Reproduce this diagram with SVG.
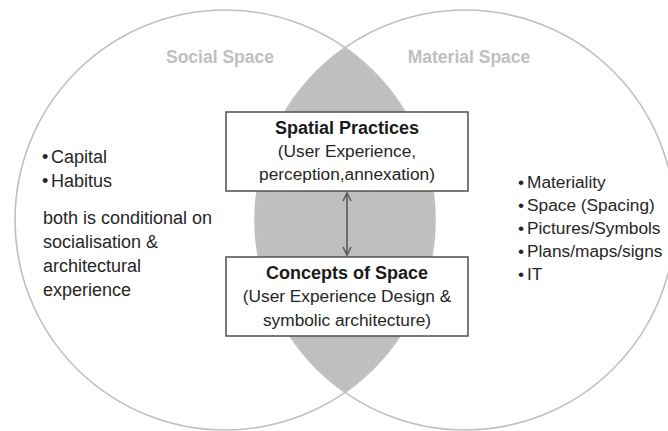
<svg xmlns="http://www.w3.org/2000/svg" width="668" height="431" viewBox="0 0 668 431">
<style>
.circle{fill:none;stroke:#bfbfbf;stroke-width:1.6}
.lens{fill:#bfbfbf;stroke:none}
.box{fill:#ffffff;stroke:#595959;stroke-width:1.6}
.title{font-family:"Liberation Sans",Arial,sans-serif;font-size:18px;font-weight:bold;fill:#1a1a1a;text-anchor:middle}
.sub{font-family:"Liberation Sans",Arial,sans-serif;font-size:17.3px;fill:#262626;text-anchor:middle}
.head{font-family:"Liberation Sans",Arial,sans-serif;font-size:17.5px;font-weight:bold;fill:#bfbfbf;text-anchor:middle}
.list{font-family:"Liberation Sans",Arial,sans-serif;font-size:18px;fill:#262626}
.rlist{font-family:"Liberation Sans",Arial,sans-serif;font-size:17.3px;fill:#262626}
.conn{stroke:#595959;stroke-width:1.6;fill:none}
</style>
<defs>
<marker id="arr" viewBox="0 0 10 10" refX="9" refY="5" markerWidth="10" markerHeight="10" markerUnits="userSpaceOnUse" orient="auto-start-reverse">
<path d="M1,1 L9,5 L1,9" fill="none" stroke="#595959" stroke-width="1.6"/>
</marker>
</defs>
<rect width="668" height="431" fill="#ffffff"/>
<g id="lens">
<path class="lens" d="M345,48 A210,210 0 0,1 345,392 A210,210 0 0,1 345,48 Z"/>
</g>
<g id="social-space">
<circle class="circle" cx="225" cy="220" r="210"/>
<text class="head" x="220" y="63">Social Space</text>
<text class="list"><tspan x="42" y="163">•</tspan><tspan x="51" y="163">Capital</tspan></text>
<text class="list"><tspan x="42" y="187">•</tspan><tspan x="51" y="187">Habitus</tspan></text>
<text class="list" x="43" y="224">both is conditional on</text>
<text class="list" x="43" y="248">socialisation  &amp;</text>
<text class="list" x="43" y="272">architectural</text>
<text class="list" x="43" y="296">experience</text>
</g>
<g id="material-space">
<circle class="circle" cx="465" cy="220" r="210"/>
<text class="head" x="469" y="63">Material Space</text>
<text class="rlist"><tspan x="518" y="188">•</tspan><tspan x="527" y="188">Materiality</tspan></text>
<text class="rlist"><tspan x="518" y="211">•</tspan><tspan x="527" y="211">Space (Spacing)</tspan></text>
<text class="rlist"><tspan x="518" y="234">•</tspan><tspan x="527" y="234">Pictures/Symbols</tspan></text>
<text class="rlist"><tspan x="518" y="257">•</tspan><tspan x="527" y="257">Plans/maps/signs</tspan></text>
<text class="rlist"><tspan x="518" y="280">•</tspan><tspan x="527" y="280">IT</tspan></text>
</g>
<g id="connectors">
<line class="conn" x1="347" y1="193" x2="347" y2="255" marker-start="url(#arr)" marker-end="url(#arr)"/>
</g>
<g id="spatial-practices">
<rect class="box" x="226" y="112" width="242" height="79"/>
<text class="title" x="347" y="134">Spatial Practices</text>
<text class="sub" x="347" y="157">(User Experience,</text>
<text class="sub" x="347" y="180">perception,annexation)</text>
</g>
<g id="concepts-of-space">
<rect class="box" x="226" y="257" width="242" height="79"/>
<text class="title" x="347" y="279">Concepts of Space</text>
<text class="sub" x="347" y="302">(User Experience Design &amp;</text>
<text class="sub" x="347" y="326">symbolic architecture)</text>
</g>
</svg>
